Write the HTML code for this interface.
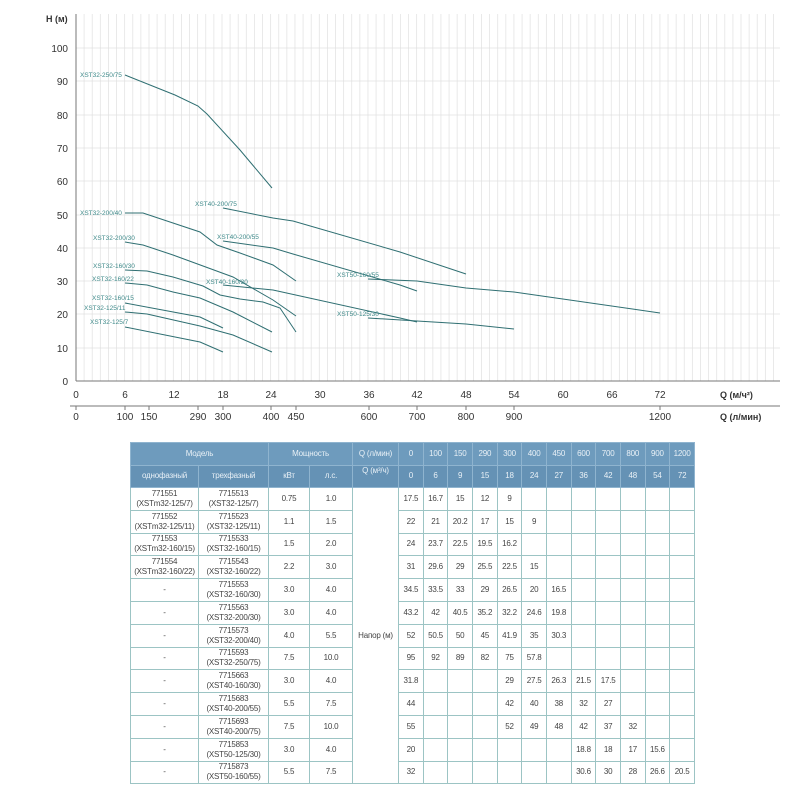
<!DOCTYPE html>
<html><head><meta charset="utf-8"><style>
body{margin:0;width:800px;height:800px;background:#fff;position:relative;font-family:"Liberation Sans",sans-serif;overflow:hidden}
svg{position:absolute;left:0;top:0}
table{position:absolute;left:130px;top:442px;border-collapse:collapse;table-layout:fixed;width:564px;font-size:8px;color:#444}
td{border:1px solid #9cc4c4;text-align:center;padding:0;height:21.8px;line-height:10px;white-space:nowrap;overflow:hidden;letter-spacing:-0.2px}
tr.h td{background:#6e9bbd;color:#e8f0f6;border-color:#8fb4cf;height:21.5px}
tr.h2 td{background:#6592b5}
</style></head><body>
<svg width="800" height="430" viewBox="0 0 800 430">
<g stroke="#e4e4e4" stroke-width="0.8" id="vg"></g>
<g stroke="#e0e0e0" stroke-width="0.8">
<line x1="76" y1="48" x2="780" y2="48"/><line x1="76" y1="81" x2="780" y2="81"/><line x1="76" y1="115" x2="780" y2="115"/><line x1="76" y1="148" x2="780" y2="148"/><line x1="76" y1="181" x2="780" y2="181"/><line x1="76" y1="215" x2="780" y2="215"/><line x1="76" y1="248" x2="780" y2="248"/><line x1="76" y1="281" x2="780" y2="281"/><line x1="76" y1="314" x2="780" y2="314"/><line x1="76" y1="348" x2="780" y2="348"/>
</g>
<line x1="76" y1="14" x2="76" y2="381" stroke="#777" stroke-width="1"/>
<line x1="76" y1="381" x2="780" y2="381" stroke="#777" stroke-width="1"/>
<line x1="70" y1="406" x2="780" y2="406" stroke="#777" stroke-width="1"/>
<g font-size="10" fill="#333" text-anchor="end">
<text x="68" y="52">100</text><text x="68" y="85">90</text><text x="68" y="119">80</text><text x="68" y="152">70</text><text x="68" y="185">60</text><text x="68" y="219">50</text><text x="68" y="252">40</text><text x="68" y="285">30</text><text x="68" y="318">20</text><text x="68" y="352">10</text><text x="68" y="385">0</text>
</g>
<text x="46" y="22" font-size="9" font-weight="bold" fill="#333">H (м)</text>
<g font-size="10" fill="#333" text-anchor="middle">
<text x="76" y="398">0</text><text x="125" y="398">6</text><text x="174" y="398">12</text><text x="223" y="398">18</text><text x="271" y="398">24</text><text x="320" y="398">30</text><text x="369" y="398">36</text><text x="417" y="398">42</text><text x="466" y="398">48</text><text x="514" y="398">54</text><text x="563" y="398">60</text><text x="612" y="398">66</text><text x="660" y="398">72</text>
<text x="76" y="420">0</text><text x="125" y="420">100</text><text x="149" y="420">150</text><text x="198" y="420">290</text><text x="223" y="420">300</text><text x="271" y="420">400</text><text x="296" y="420">450</text><text x="369" y="420">600</text><text x="417" y="420">700</text><text x="466" y="420">800</text><text x="514" y="420">900</text><text x="660" y="420">1200</text>
</g>
<g stroke="#777" stroke-width="1"><line x1="76" y1="406" x2="76" y2="410"/><line x1="125" y1="406" x2="125" y2="410"/><line x1="149" y1="406" x2="149" y2="410"/><line x1="198" y1="406" x2="198" y2="410"/><line x1="223" y1="406" x2="223" y2="410"/><line x1="271" y1="406" x2="271" y2="410"/><line x1="296" y1="406" x2="296" y2="410"/><line x1="369" y1="406" x2="369" y2="410"/><line x1="417" y1="406" x2="417" y2="410"/><line x1="466" y1="406" x2="466" y2="410"/><line x1="514" y1="406" x2="514" y2="410"/><line x1="660" y1="406" x2="660" y2="410"/></g>
<text x="720" y="398" font-size="9" font-weight="bold" fill="#333">Q (м/ч²)</text>
<text x="720" y="420" font-size="9" font-weight="bold" fill="#333">Q (л/мин)</text>
<g fill="none" stroke="#2f6f72" stroke-width="1">
<polyline points="125,75 175,95 198,106 207,114 240,150 272,188"/>
<polyline points="125,213 143,213 173,223 200,232 217,245 240,253 273,265 296,281"/>
<polyline points="223,208 273,218 293,221 400,252 466,274"/>
<polyline points="223,241 273,248 293,254 400,285 417,291"/>
<polyline points="125,242 143,245 173,255 233,277 273,300 296,316"/>
<polyline points="125,270 147,271 173,277 203,286 220,295 240,299 263,302 280,308 296,332"/>
<polyline points="125,283 147,285 173,292 200,298 233,312 272,332"/>
<polyline points="125,303 200,317 223,328"/>
<polyline points="125,312 147,314 200,326 233,335 272,352"/>
<polyline points="125,327 200,342 223,352"/>
<polyline points="223,285 273,290 400,318 417,322"/>
<polyline points="368,279 417,281 466,288 514,292 660,313"/>
<polyline points="368,318 417,321 466,324 514,329"/>
</g>
<g font-size="6.5" fill="#3f8a8a">
<text x="80" y="77">XST32-250/75</text>
<text x="80" y="215">XST32-200/40</text>
<text x="93" y="240">XST32-200/30</text>
<text x="93" y="268">XST32-160/30</text>
<text x="92" y="281">XST32-160/22</text>
<text x="92" y="300">XST32-160/15</text>
<text x="84" y="310">XST32-125/11</text>
<text x="90" y="324">XST32-125/7</text>
<text x="195" y="206">XST40-200/75</text>
<text x="217" y="239">XST40-200/55</text>
<text x="206" y="284">XST40-160/30</text>
<text x="337" y="277">XST50-160/55</text>
<text x="337" y="316">XST50-125/30</text>
</g>
</svg>
<table>
<colgroup><col style="width:68px"><col style="width:70px"><col style="width:41px"><col style="width:43px"><col style="width:46px"><col span="12" style="width:24.67px"></colgroup>
<tr class="h"><td colspan="2">Модель</td><td colspan="2">Мощность</td><td>Q (л/мин)</td><td>0</td><td>100</td><td>150</td><td>290</td><td>300</td><td>400</td><td>450</td><td>600</td><td>700</td><td>800</td><td>900</td><td>1200</td></tr>
<tr class="h h2"><td>однофазный</td><td>трехфазный</td><td>кВт</td><td>л.с.</td><td style="vertical-align:top">Q (м³/ч)</td><td>0</td><td>6</td><td>9</td><td>15</td><td>18</td><td>24</td><td>27</td><td>36</td><td>42</td><td>48</td><td>54</td><td>72</td></tr>
<tr><td>771551<br>(XSTm32-125/7)</td><td>7715513<br>(XST32-125/7)</td><td>0.75</td><td>1.0</td><td rowspan="13">Напор (м)</td><td>17.5</td><td>16.7</td><td>15</td><td>12</td><td>9</td><td></td><td></td><td></td><td></td><td></td><td></td><td></td></tr>
<tr><td>771552<br>(XSTm32-125/11)</td><td>7715523<br>(XST32-125/11)</td><td>1.1</td><td>1.5</td><td>22</td><td>21</td><td>20.2</td><td>17</td><td>15</td><td>9</td><td></td><td></td><td></td><td></td><td></td><td></td></tr>
<tr><td>771553<br>(XSTm32-160/15)</td><td>7715533<br>(XST32-160/15)</td><td>1.5</td><td>2.0</td><td>24</td><td>23.7</td><td>22.5</td><td>19.5</td><td>16.2</td><td></td><td></td><td></td><td></td><td></td><td></td><td></td></tr>
<tr><td>771554<br>(XSTm32-160/22)</td><td>7715543<br>(XST32-160/22)</td><td>2.2</td><td>3.0</td><td>31</td><td>29.6</td><td>29</td><td>25.5</td><td>22.5</td><td>15</td><td></td><td></td><td></td><td></td><td></td><td></td></tr>
<tr><td>-</td><td>7715553<br>(XST32-160/30)</td><td>3.0</td><td>4.0</td><td>34.5</td><td>33.5</td><td>33</td><td>29</td><td>26.5</td><td>20</td><td>16.5</td><td></td><td></td><td></td><td></td><td></td></tr>
<tr><td>-</td><td>7715563<br>(XST32-200/30)</td><td>3.0</td><td>4.0</td><td>43.2</td><td>42</td><td>40.5</td><td>35.2</td><td>32.2</td><td>24.6</td><td>19.8</td><td></td><td></td><td></td><td></td><td></td></tr>
<tr><td>-</td><td>7715573<br>(XST32-200/40)</td><td>4.0</td><td>5.5</td><td>52</td><td>50.5</td><td>50</td><td>45</td><td>41.9</td><td>35</td><td>30.3</td><td></td><td></td><td></td><td></td><td></td></tr>
<tr><td>-</td><td>7715593<br>(XST32-250/75)</td><td>7.5</td><td>10.0</td><td>95</td><td>92</td><td>89</td><td>82</td><td>75</td><td>57.8</td><td></td><td></td><td></td><td></td><td></td><td></td></tr>
<tr><td>-</td><td>7715663<br>(XST40-160/30)</td><td>3.0</td><td>4.0</td><td>31.8</td><td></td><td></td><td></td><td>29</td><td>27.5</td><td>26.3</td><td>21.5</td><td>17.5</td><td></td><td></td><td></td></tr>
<tr><td>-</td><td>7715683<br>(XST40-200/55)</td><td>5.5</td><td>7.5</td><td>44</td><td></td><td></td><td></td><td>42</td><td>40</td><td>38</td><td>32</td><td>27</td><td></td><td></td><td></td></tr>
<tr><td>-</td><td>7715693<br>(XST40-200/75)</td><td>7.5</td><td>10.0</td><td>55</td><td></td><td></td><td></td><td>52</td><td>49</td><td>48</td><td>42</td><td>37</td><td>32</td><td></td><td></td></tr>
<tr><td>-</td><td>7715853<br>(XST50-125/30)</td><td>3.0</td><td>4.0</td><td>20</td><td></td><td></td><td></td><td></td><td></td><td></td><td>18.8</td><td>18</td><td>17</td><td>15.6</td><td></td></tr>
<tr><td>-</td><td>7715873<br>(XST50-160/55)</td><td>5.5</td><td>7.5</td><td>32</td><td></td><td></td><td></td><td></td><td></td><td></td><td>30.6</td><td>30</td><td>28</td><td>26.6</td><td>20.5</td></tr>
</table>
<script>
var g=document.getElementById('vg'),s='';
for(var k=1;k<=86;k++){var x=76+8.11*k;s+='<line x1="'+x+'" y1="14" x2="'+x+'" y2="381"/>';}
g.innerHTML=s;
</script>
</body></html>
